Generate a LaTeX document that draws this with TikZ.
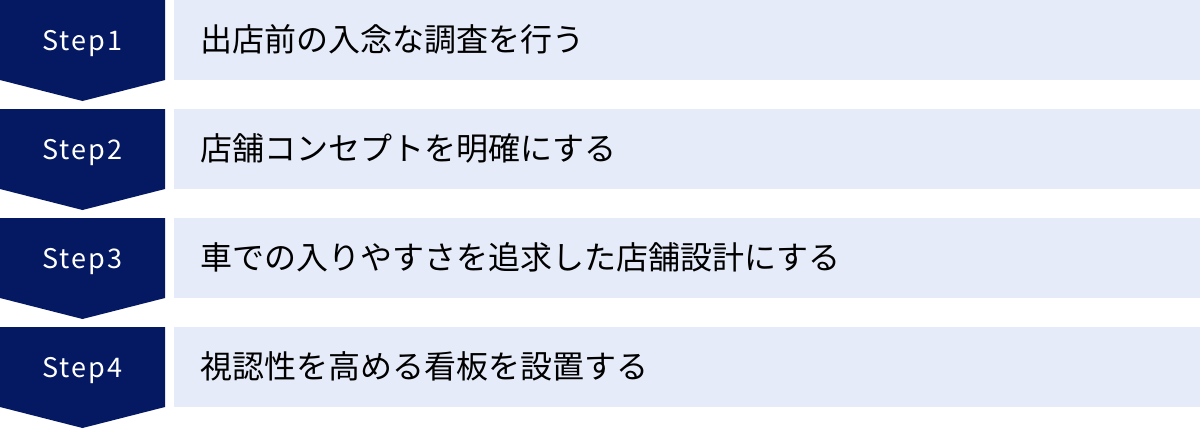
\documentclass[tikz,border=0pt]{standalone}
\usepackage{fontspec}
\setmainfont{Noto Sans CJK JP}
\newfontfamily\stepfont[LetterSpace=8]{Noto Sans CJK JP}
\usetikzlibrary{positioning}
\definecolor{stepnavy}{HTML}{051862}
\definecolor{panelblue}{HTML}{E5EBF8}

\begin{document}
\begin{tikzpicture}[x=1pt,y=1pt,
    stepshape/.style={fill=stepnavy},
    steplabel/.style={anchor=base,text=white,font=\stepfont\fontsize{27}{30}\selectfont},
    panel/.style={fill=panelblue},
    paneltext/.style={anchor=base west,inner sep=0pt,text=black,font=\fontsize{32}{36}\selectfont}]
  \useasboundingbox (0,0) rectangle (1200,-429);

  % Steps
  \foreach \i/\txt in {1/出店前の入念な調査を行う,
                       2/店舗コンセプトを明確にする,
                       3/車での入りやすさを追求した店舗設計にする,
                       4/視認性を高める看板を設置する}{
    \pgfmathsetmacro{\rowtop}{-109*(\i-1)}
    % chevron and panel
    \fill[stepshape] (0,\rowtop) -- (165,\rowtop) -- (165,\rowtop-80)
      -- (82.5,\rowtop-101) -- (0,\rowtop-80) -- cycle;
    \fill[panel] (174,\rowtop) rectangle (1200,\rowtop-80);
    % labels
    \node[steplabel] (step\i) at (82.5,\rowtop-50) {Step\i};
    \node[paneltext] (text\i) at (200,\rowtop-51) {\txt};
  }
\end{tikzpicture}
\end{document}
